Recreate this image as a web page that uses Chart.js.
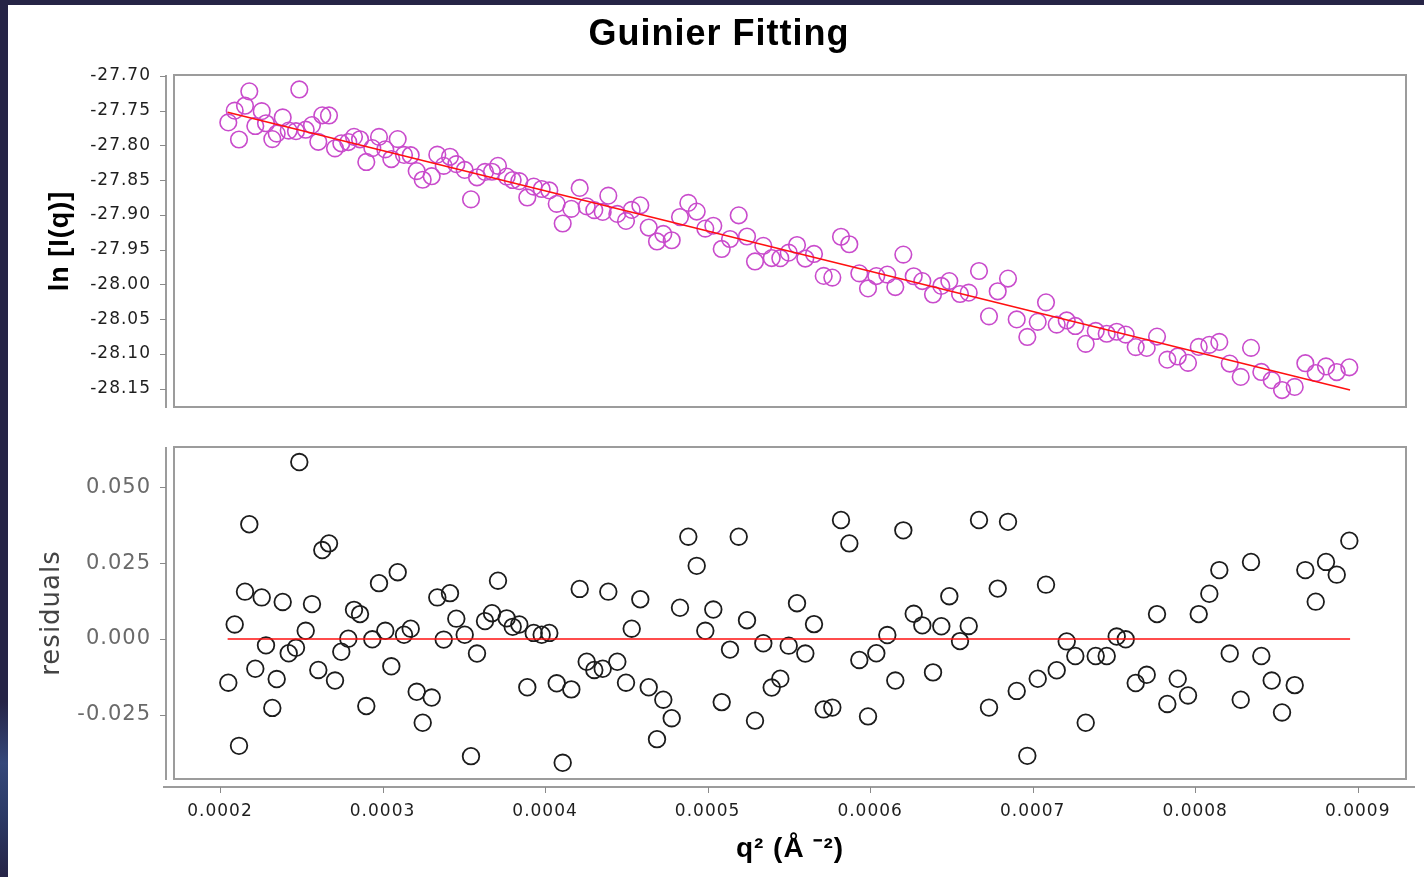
<!DOCTYPE html>
<html>
<head>
<meta charset="utf-8">
<title>Guinier Fitting</title>
<script src="https://cdn.jsdelivr.net/npm/chart.js@4.4.0/dist/chart.umd.min.js"></script>
<style>
  html, body { margin: 0; padding: 0; background: #fff; }
  body { width: 1424px; height: 877px; position: relative; overflow: hidden; }
  #topBar { position: absolute; left: 0; top: 0; width: 1424px; height: 5px; background: #262446; z-index: 2; }
  #leftBar { position: absolute; left: 0; top: 0; width: 8px; height: 877px; z-index: 2;
    background: linear-gradient(180deg, #262446 0%, #262446 80%, #35487a 87%, #2c3a66 93%, #262446 100%); }
  canvas { position: absolute; left: 0; }
  #guinier { top: 0; }
  #resid { top: 430px; }
</style>
</head>
<body>
<div id="topBar"></div>
<div id="leftBar"></div>
<canvas id="guinier" width="1424" height="430"></canvas>
<canvas id="resid" width="1424" height="447"></canvas>
<script>
// q^2 (1/A^2) of each measured point
const q2 = [
  0.00020511, 0.00020904, 0.00021169, 0.00021538, 0.00021803, 0.00022172, 0.00022566, 0.00022830, 0.00023218, 0.00023489,
  0.00023858, 0.00024227, 0.00024676, 0.00024879, 0.00025273, 0.00025660, 0.00026048, 0.00026294, 0.00026706, 0.00027076,
  0.00027463, 0.00027894, 0.00028245, 0.00028614, 0.00029001, 0.00029371, 0.00029783, 0.00030170, 0.00030540, 0.00030933,
  0.00031321, 0.00031733, 0.00032102, 0.00032472, 0.00033025, 0.00033370, 0.00033764, 0.00034151, 0.00034539, 0.00035056,
  0.00035443, 0.00035812, 0.00036305, 0.00036735, 0.00037104, 0.00037640, 0.00038009, 0.00038415, 0.00038907, 0.00039301,
  0.00039793, 0.00040261, 0.00040716, 0.00041085, 0.00041615, 0.00042131, 0.00042562, 0.00043029, 0.00043546, 0.00043891,
  0.00044445, 0.00044980, 0.00045331, 0.00045860, 0.00046377, 0.00046887, 0.00047275, 0.00047792, 0.00048302, 0.00048813,
  0.00049330, 0.00049859, 0.00050351, 0.00050868, 0.00051379, 0.00051914, 0.00052425, 0.00052917, 0.00053428, 0.00053945,
  0.00054474, 0.00054991, 0.00055501, 0.00056012, 0.00056547, 0.00057144, 0.00057673, 0.00058208, 0.00058719, 0.00059334,
  0.00059870, 0.00060380, 0.00061057, 0.00061549, 0.00062042, 0.00062682, 0.00063211, 0.00063869, 0.00064380, 0.00064872,
  0.00065530, 0.00066066, 0.00066699, 0.00067314, 0.00067850, 0.00068483, 0.00069019, 0.00069671, 0.00070311, 0.00070821,
  0.00071479, 0.00072095, 0.00072624, 0.00073264, 0.00073879, 0.00074556, 0.00075171, 0.00075725, 0.00076340, 0.00077017,
  0.00077651, 0.00078285, 0.00078924, 0.00079558, 0.00080217, 0.00080869, 0.00081484, 0.00082124, 0.00082801, 0.00083434,
  0.00084068, 0.00084708, 0.00085342, 0.00086123, 0.00086776, 0.00087416, 0.00088049, 0.00088708, 0.00089483
];

// ln I(q) at each q^2
const lnI = [
  -27.7668, -27.7499, -27.7914, -27.7428, -27.7221, -27.7719, -27.7506, -27.7680, -27.7908, -27.7829,
  -27.7596, -27.7786, -27.7794, -27.7194, -27.7773, -27.7707, -27.7947, -27.7566, -27.7568, -27.8041,
  -27.7969, -27.7951, -27.7876, -27.7911, -27.8237, -27.8038, -27.7877, -27.8056, -27.8195, -27.7908,
  -27.8136, -27.8140, -27.8369, -27.8493, -27.8442, -27.8132, -27.8293, -27.8163, -27.8269, -27.8352,
  -27.8775, -27.8458, -27.8380, -27.8378, -27.8293, -27.8448, -27.8497, -27.8513, -27.8748, -27.8592,
  -27.8626, -27.8647, -27.8840, -27.9123, -27.8912, -27.8611, -27.8876, -27.8930, -27.8956, -27.8722,
  -27.8985, -27.9085, -27.8927, -27.8861, -27.9181, -27.9381, -27.9273, -27.9364, -27.9030, -27.8826,
  -27.8951, -27.9196, -27.9155, -27.9489, -27.9346, -27.9005, -27.9310, -27.9669, -27.9444, -27.9620,
  -27.9621, -27.9542, -27.9432, -27.9627, -27.9561, -27.9877, -27.9901, -27.9314, -27.9421, -27.9840,
  -28.0057, -27.9879, -27.9858, -28.0037, -27.9570, -27.9882, -27.9951, -28.0144, -28.0021, -27.9951,
  -28.0137, -28.0118, -27.9806, -28.0459, -28.0098, -27.9915, -28.0503, -28.0755, -28.0538, -28.0257,
  -28.0577, -28.0518, -28.0597, -28.0854, -28.0669, -28.0709, -28.0680, -28.0721, -28.0901, -28.0913,
  -28.0750, -28.1082, -28.1036, -28.1128, -28.0898, -28.0869, -28.0826, -28.1138, -28.1330, -28.0912,
  -28.1259, -28.1377, -28.1519, -28.1474, -28.1133, -28.1274, -28.1179, -28.1260, -28.1192
];

// data minus fit
const residuals = [
  -0.0144, 0.0048, -0.0352, 0.0156, 0.0378, -0.0098, 0.0137, -0.0021, -0.0227, -0.0132,
  0.0122, -0.0047, -0.0029, 0.0583, 0.0027, 0.0115, -0.0102, 0.0293, 0.0315, -0.0137,
  -0.0042, 0.0001, 0.0096, 0.0082, -0.0221, -0.0001, 0.0184, 0.0027, -0.0090, 0.0220,
  0.0014, 0.0034, -0.0174, -0.0276, -0.0193, 0.0137, -0.0002, 0.0151, 0.0067, 0.0014,
  -0.0386, -0.0048, 0.0059, 0.0085, 0.0192, 0.0068, 0.0040, 0.0048, -0.0159, 0.0020,
  0.0014, 0.0020, -0.0146, -0.0408, -0.0166, 0.0165, -0.0075, -0.0102, -0.0098, 0.0156,
  -0.0075, -0.0144, 0.0034, 0.0131, -0.0159, -0.0330, -0.0200, -0.0261, 0.0103, 0.0337,
  0.0241, 0.0027, 0.0097, -0.0208, -0.0035, 0.0337, 0.0062, -0.0269, -0.0014, -0.0160,
  -0.0131, -0.0022, 0.0118, -0.0048, 0.0049, -0.0232, -0.0226, 0.0392, 0.0315, -0.0069,
  -0.0255, -0.0047, 0.0013, -0.0137, 0.0358, 0.0083, 0.0045, -0.0110, 0.0042, 0.0141,
  -0.0007, 0.0043, 0.0392, -0.0226, 0.0166, 0.0386, -0.0171, -0.0385, -0.0131, 0.0179,
  -0.0103, -0.0008, -0.0056, -0.0276, -0.0056, -0.0056, 0.0008, -0.0001, -0.0145, -0.0118,
  0.0082, -0.0214, -0.0131, -0.0186, 0.0082, 0.0149, 0.0227, -0.0048, -0.0200, 0.0254,
  -0.0056, -0.0137, -0.0242, -0.0152, 0.0227, 0.0123, 0.0254, 0.0212, 0.0324
];

// end points of the linear Guinier fit and of the zero line
const fitQ2 = [0.0002047, 0.0008953];
const fitLnI = [-27.7522, -28.1519];
const zeroLine = [0, 0];

const lnITicks = [-27.70, -27.75, -27.80, -27.85, -27.90, -27.95, -28.00, -28.05, -28.10, -28.15];
const residTicks = [0.050, 0.025, 0.000, -0.025];
const q2Ticks = [0.0002, 0.0003, 0.0004, 0.0005, 0.0006, 0.0007, 0.0008, 0.0009];

const Q2_MIN = 0.0001717, Q2_MAX = 0.0009297;

Chart.defaults.font.family = "'DejaVu Sans', sans-serif";
const ARIAL = "'Liberation Sans', Arial, sans-serif";

// plot box plus y (and x) axis lines drawn a few px away from the box
const framePlugin = {
  id: 'frame',
  beforeDraw(chart) {
    chart.ctx.letterSpacing = '1px';
  },
  beforeDatasetsDraw(chart, args, opts) {
    const { ctx, chartArea: a } = chart;
    const ys = chart.scales.y;
    ctx.save();
    ctx.strokeStyle = '#9c9c9c';
    ctx.lineWidth = 2;
    ctx.strokeRect(a.left, a.top, a.right - a.left, a.bottom - a.top);

    const ax = a.left - 8;
    ctx.beginPath();
    ctx.moveTo(ax, a.top);
    ctx.lineTo(ax, a.bottom + 1);
    ctx.stroke();
    ctx.lineWidth = 1;
    ctx.strokeStyle = '#8a8a8a';
    ctx.beginPath();
    ys.ticks.forEach(t => {
      const py = Math.round(ys.getPixelForValue(t.value)) + 0.5;
      ctx.moveTo(ax - 6, py);
      ctx.lineTo(ax, py);
    });
    ctx.stroke();

    if (opts.xAxis) {
      const xs = chart.scales.x;
      const ay = a.bottom + 8;
      ctx.lineWidth = 2;
      ctx.strokeStyle = '#9c9c9c';
      ctx.beginPath();
      ctx.moveTo(a.left - 11, ay);
      ctx.lineTo(a.right + 9, ay);
      ctx.stroke();
      ctx.lineWidth = 1;
      ctx.strokeStyle = '#8a8a8a';
      ctx.beginPath();
      xs.ticks.forEach(t => {
        const px = Math.round(xs.getPixelForValue(t.value)) + 0.5;
        ctx.moveTo(px, ay);
        ctx.lineTo(px, ay + 6);
      });
      ctx.stroke();
    }
    ctx.restore();
  }
};

const fixedTicks = list => scale => { scale.ticks = list.map(v => ({ value: v })); };
const noGrid = { display: false, drawTicks: false };

// fixed axis sizes; label overflow must not push the plot box around
const yFit = s => { s.width = 142; s.paddingTop = 0; s.paddingBottom = 0; };
const xFit = s => { s.height = 98; s.paddingLeft = 0; s.paddingRight = 0; };

new Chart(document.getElementById('guinier'), {
  type: 'scatter',
  data: {
    datasets: [
      {
        type: 'line',
        data: fitQ2.map((x, i) => ({ x: x, y: fitLnI[i] })),
        borderColor: '#ff1010',
        borderWidth: 1.6,
        pointRadius: 0,
        fill: false
      },
      {
        data: q2.map((x, i) => ({ x: x, y: lnI[i] })),
        pointStyle: 'circle',
        pointRadius: 8.3,
        borderWidth: 1.6,
        borderColor: '#c94bcc',
        backgroundColor: 'rgba(0,0,0,0)'
      }
    ]
  },
  options: {
    responsive: false,
    animation: false,
    devicePixelRatio: 1,
    layout: { padding: { left: 32, right: 18, top: 0, bottom: 23 } },
    plugins: {
      legend: { display: false },
      tooltip: { enabled: false },
      frame: { xAxis: false },
      title: {
        display: true,
        text: 'Guinier Fitting',
        color: '#000',
        font: { family: ARIAL, size: 36, weight: 'bold' },
        padding: { top: 13, bottom: 18.8 }
      }
    },
    scales: {
      x: { type: 'linear', display: false, min: Q2_MIN, max: Q2_MAX },
      y: {
        min: -28.1763,
        max: -27.6986,
        afterBuildTicks: fixedTicks(lnITicks),
        afterFit: yFit,
        grid: noGrid,
        border: { display: false },
        ticks: { padding: 23, color: '#1e1e1e', font: { size: 17 }, callback: v => v.toFixed(2) },
        title: {
          display: true,
          text: 'ln [I(q)]',
          color: '#000',
          font: { family: ARIAL, size: 27, weight: 'bold' },
          padding: { top: 12, bottom: 0 }
        }
      }
    }
  },
  plugins: [framePlugin]
});

new Chart(document.getElementById('resid'), {
  type: 'scatter',
  data: {
    datasets: [
      {
        type: 'line',
        data: fitQ2.map((x, i) => ({ x: x, y: zeroLine[i] })),
        borderColor: '#ff1010',
        borderWidth: 1.6,
        pointRadius: 0,
        fill: false
      },
      {
        data: q2.map((x, i) => ({ x: x, y: residuals[i] })),
        pointStyle: 'circle',
        pointRadius: 8.3,
        borderWidth: 1.8,
        borderColor: '#1c1c1c',
        backgroundColor: 'rgba(0,0,0,0)'
      }
    ]
  },
  options: {
    responsive: false,
    animation: false,
    devicePixelRatio: 1,
    layout: { padding: { left: 32, right: 18, top: 17, bottom: 0 } },
    plugins: {
      legend: { display: false },
      tooltip: { enabled: false },
      frame: { xAxis: true }
    },
    scales: {
      x: {
        type: 'linear',
        position: 'bottom',
        min: Q2_MIN,
        max: Q2_MAX,
        afterBuildTicks: fixedTicks(q2Ticks),
        afterFit: xFit,
        grid: noGrid,
        border: { display: false },
        ticks: { padding: 22, color: '#1e1e1e', font: { size: 17 }, maxRotation: 0, autoSkip: false, callback: v => v.toFixed(4) },
        title: {
          display: true,
          text: 'q² (Å ⁻²)',
          color: '#000',
          font: { family: ARIAL, size: 28, weight: 'bold' },
          padding: { top: 0, bottom: 11 }
        }
      },
      y: {
        min: -0.04613,
        max: 0.06326,
        afterBuildTicks: fixedTicks(residTicks),
        afterFit: yFit,
        grid: noGrid,
        border: { display: false },
        ticks: { padding: 23, color: '#6a6a6a', font: { size: 21 }, callback: v => v.toFixed(3) },
        title: {
          display: true,
          text: 'residuals',
          color: '#444',
          font: { size: 26 },
          padding: { top: 4.4, bottom: 0 }
        }
      }
    }
  },
  plugins: [framePlugin]
});
</script>
</body>
</html>
